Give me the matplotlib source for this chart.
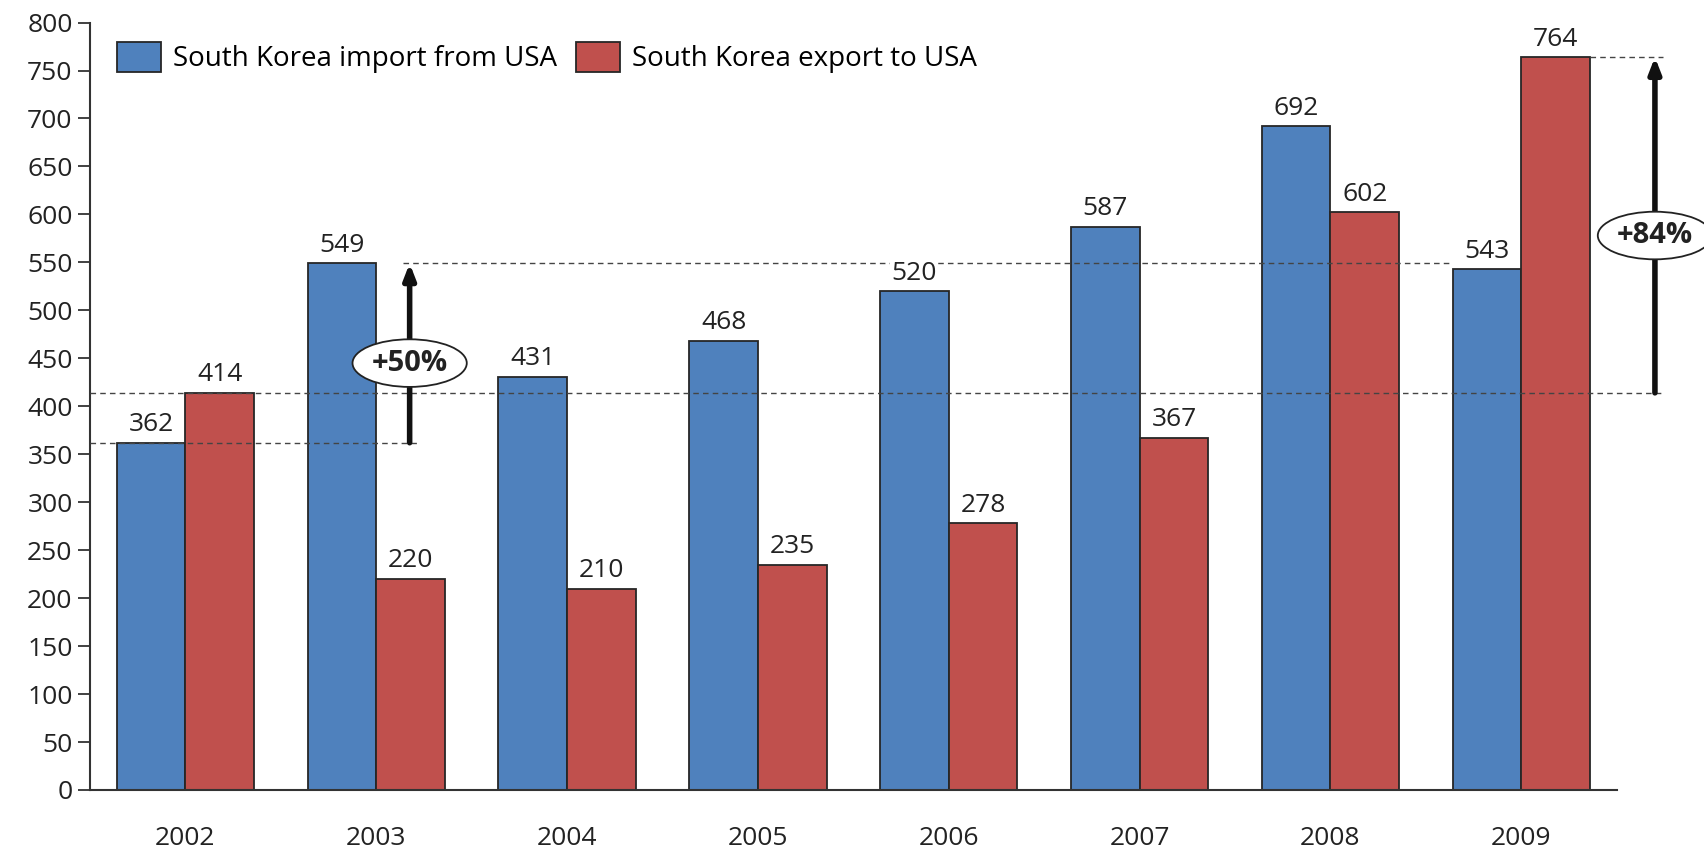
import matplotlib.pyplot as plt
import numpy as np

plt.rcParams['font.family'] = ['Open Sans', 'DejaVu Sans']

# data
years = ['2002', '2003', '2004', '2005', '2006', '2007', '2008', '2009']
imports_usa = [362, 549, 431, 468, 520, 587, 692, 543]
exports_usa = [414, 220, 210, 235, 278, 367, 602, 764]
growth_labels = ['+50%', '+84%']

blue = '#4F81BD'
red = '#C0504D'
edge = '#262626'
fs = 19

fig = plt.figure(figsize=(17.04, 8.48), dpi=100)
ax = fig.add_axes([0.0528, 0.0684, 0.896, 0.905])

x = np.arange(len(years))
w = 0.36
b1 = ax.bar(x - w / 2, imports_usa, w, color=blue, edgecolor=edge, linewidth=1.3,
            label='South Korea import from USA', zorder=2)
b2 = ax.bar(x + w / 2, exports_usa, w, color=red, edgecolor=edge, linewidth=1.3,
            label='South Korea export to USA', zorder=2)

for bars, vals in [(b1, imports_usa), (b2, exports_usa)]:
    for r, v in zip(bars, vals):
        ax.annotate(str(v), (r.get_x() + r.get_width() / 2, v), xytext=(0, 4),
                    textcoords='offset points', ha='center', va='bottom',
                    fontsize=fs, color='#222222', zorder=5,
                    bbox=dict(facecolor='white', edgecolor='none', pad=1))

# dashed reference lines
dash = dict(color='#444444', linestyle=(0, (4, 3)), linewidth=1.0, clip_on=False, zorder=3)
ax.plot([-0.5, 1.22], [imports_usa[0], imports_usa[0]], **dash)
ax.plot([-0.5, 7.74], [exports_usa[0], exports_usa[0]], **dash)
ax.plot([1.14, 7 - w], [imports_usa[1], imports_usa[1]], **dash)
ax.plot([7 + w, 7.74], [exports_usa[7], exports_usa[7]], **dash)

# growth arrows
arrow = dict(arrowstyle='-|>,head_width=0.35,head_length=0.9', color='#111111',
             linewidth=4, shrinkA=0, shrinkB=0)
ax.annotate('', xy=(1.175, imports_usa[1]), xytext=(1.175, imports_usa[0]),
            arrowprops=arrow, annotation_clip=False, zorder=4)
ax.annotate('', xy=(7.70, exports_usa[7]), xytext=(7.70, exports_usa[0]),
            arrowprops=arrow, annotation_clip=False, zorder=4)

ell = dict(boxstyle='ellipse,pad=0.08', facecolor='white', edgecolor='#222222', linewidth=1.3)
ax.text(1.175, 445, growth_labels[0], ha='center', va='center', fontsize=21,
        fontweight='bold', color='#222222', bbox=ell, zorder=6, clip_on=False)
ax.text(7.70, 578, growth_labels[1], ha='center', va='center', fontsize=21,
        fontweight='bold', color='#222222', bbox=ell, zorder=6, clip_on=False)

ax.set_xlim(-0.5, 7.5)
ax.set_ylim(0, 800)
ax.set_yticks(range(0, 801, 50))
ax.set_xticks(x)
ax.set_xticklabels(years)
ax.tick_params(axis='y', length=9, width=1.3, color='#333333', labelsize=fs,
               labelcolor='#222222', direction='out')
ax.tick_params(axis='x', length=0, labelsize=fs, labelcolor='#222222', pad=26)
for s in ['top', 'right']:
    ax.spines[s].set_visible(False)
for s in ['left', 'bottom']:
    ax.spines[s].set_linewidth(1.5)
    ax.spines[s].set_color('#333333')

ax.legend(loc='upper left', bbox_to_anchor=(0.005, 1.0), ncol=2, frameon=False,
          fontsize=20, handlelength=1.6, handleheight=1.3, handletextpad=0.4,
          columnspacing=0.7, borderaxespad=0.3)

fig.savefig('out.png', dpi=100)
